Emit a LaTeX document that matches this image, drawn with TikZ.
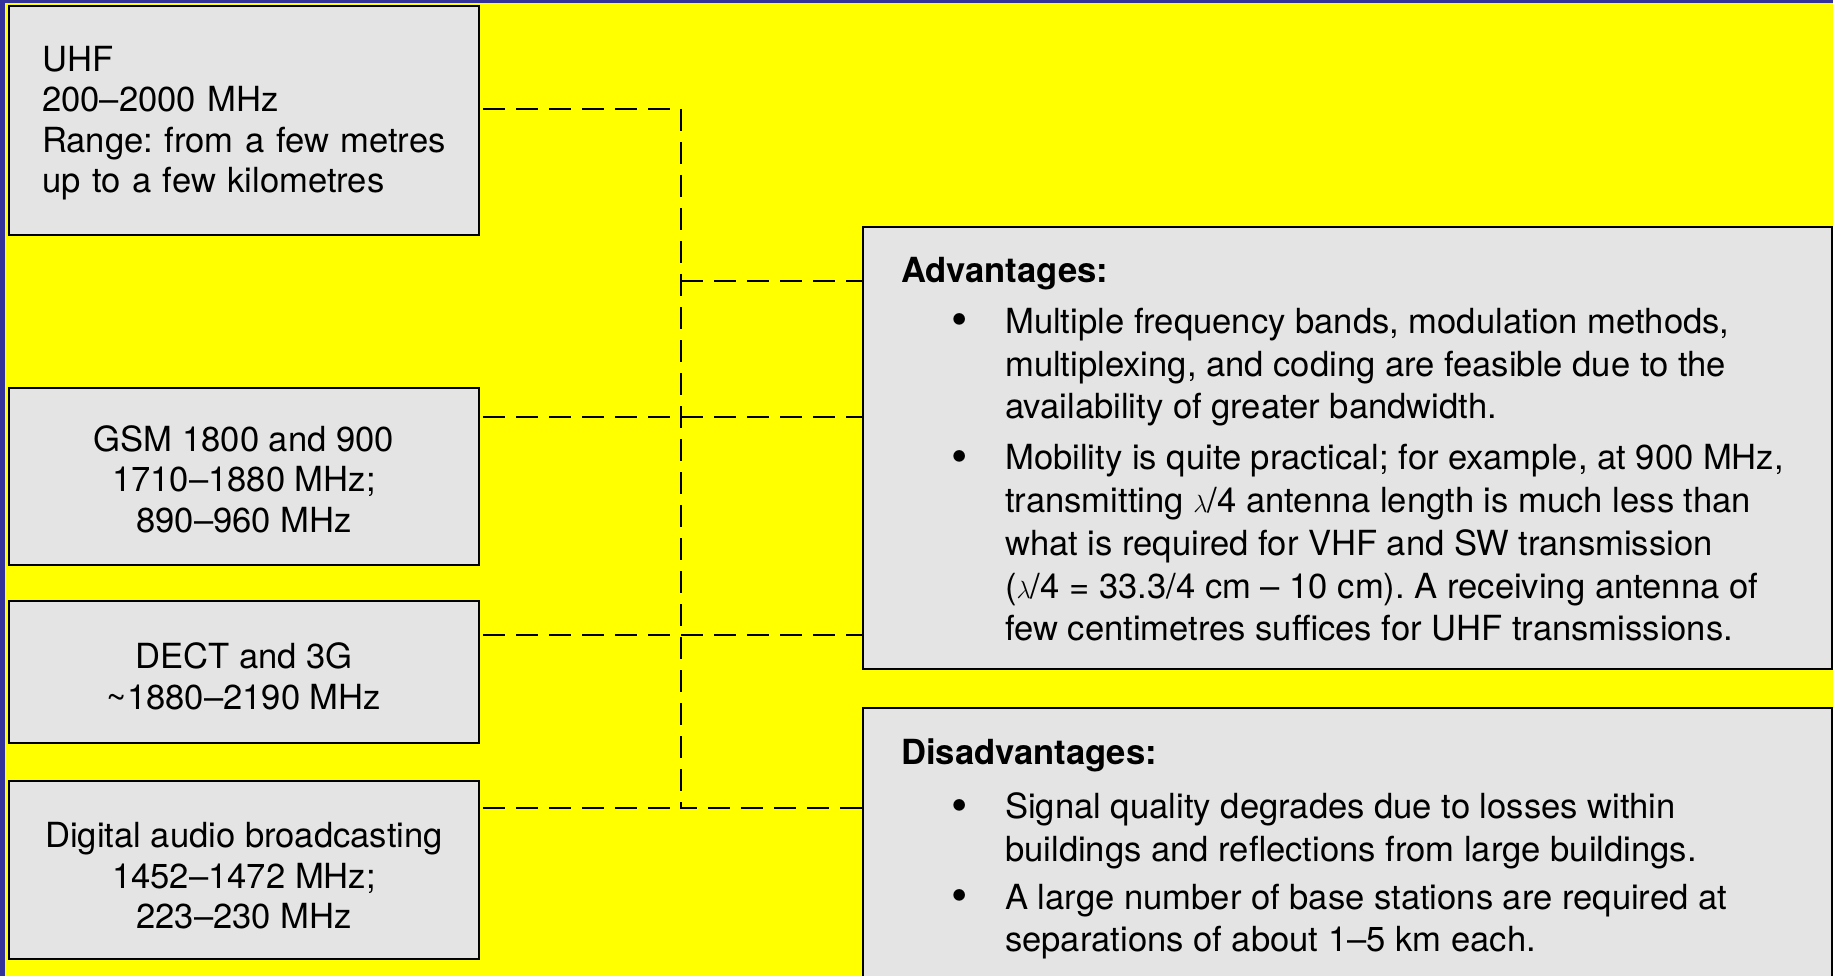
\documentclass[tikz,border=0pt]{standalone}
\usepackage{fontspec}
\setmainfont{TeX Gyre Heros}
\definecolor{frameblue}{RGB}{51,51,153}
\definecolor{bgyellow}{RGB}{255,255,0}
\definecolor{boxgray}{RGB}{228,228,228}
\newcommand\bigbul{\raisebox{-2.5pt}{\scalebox{1.35}{\textbullet}}}
\newcommand\bline[2]{\hbox{\hbox to 104pt{\hskip 50pt #1\hfil}#2}}
\begin{document}
\frenchspacing
\hyphenpenalty=10000
\exhyphenpenalty=10000
\begin{tikzpicture}[x=1pt,y=-1pt,
  box/.style={draw=black, line width=2pt, fill=boxgray, inner sep=0pt, outer sep=0pt},
  lbox/.style={box, minimum width=470pt},
  ltxt/.style={inner sep=0pt, font=\fontsize{34.6}{40.5}\selectfont, align=center},
  conn/.style={line width=2.2pt, dash pattern=on 22pt off 11pt},
  txt/.style={anchor=base west, inner sep=0pt, font=\fontsize{34.6}{42.7}\selectfont}
 ]
\useasboundingbox (0,0) rectangle (1833,976);
\fill[frameblue] (0,0) rectangle (1833,976);
\fill[bgyellow] (5,3) rectangle (1833,976);

% left boxes
\node[lbox, minimum height=229pt] (uhf) at (244,120.5) {};
\node[lbox, minimum height=177pt] (gsm) at (244,476.5) {};
\node[lbox, minimum height=142pt] (dect) at (244,672) {};
\node[lbox, minimum height=178pt] (dab) at (244,870) {};

\node[ltxt, align=left, text width=410pt, anchor=west] (uhft) at ([xshift=33pt,yshift=-2.5pt]uhf.west)
  {UHF\\200--2000 MHz\\Range: from a few metres\\up to a few kilometres};
\node[ltxt] (gsmt) at ([yshift=-2.5pt]gsm.center)
  {GSM 1800 and 900\\1710--1880 MHz;\\890--960 MHz};
\node[ltxt] (dectt) at ([yshift=-4.5pt]dect.center)
  {DECT and 3G\\\textasciitilde1880--2190 MHz};
\node[ltxt] (dabt) at ([yshift=-6pt]dab.center)
  {Digital audio broadcasting\\1452--1472 MHz;\\223--230 MHz};

% right boxes
\node[box, minimum width=969pt, minimum height=442pt] (adv) at (1347.5,448) {};
\node[box, minimum width=969pt, minimum height=300pt] (dis) at (1347.5,858) {};

\node[txt] (advtxt) at (901,283) {\vtop{\baselineskip=42.7pt \parindent=0pt
  \hbox{\bfseries Advantages:}
  \vskip 7.6pt
  \bline{\bigbul}{Multiple frequency bands, modulation methods,}
  \bline{}{multiplexing, and coding are feasible due to the}
  \bline{}{availability of greater bandwidth.}
  \vskip 8.6pt
  \bline{\bigbul}{Mobility is quite practical; for example, at 900 MHz,}
  \bline{}{transmitting $\lambda$/4 antenna length is much less than}
  \bline{}{what is required for VHF and SW transmission}
  \bline{}{($\lambda$/4 = 33.3/4 cm -- 10 cm). A receiving antenna of}
  \bline{}{few centimetres suffices for UHF transmissions.}
}};

\node[txt] (distxt) at (901,764) {\vtop{\baselineskip=42.7pt \parindent=0pt
  \hbox{\bfseries Disadvantages:}
  \vskip 12pt
  \bline{\bigbul}{Signal quality degrades due to losses within}
  \bline{}{buildings and reflections from large buildings.}
  \vskip 5pt
  \bline{\bigbul}{A large number of base stations are required at}
  \bline{}{separations of about 1--5 km each.}
}};

% connectors
\coordinate (j1) at (681,109);
\coordinate (j2) at (681,281);
\coordinate (j3) at (681,417);
\coordinate (j4) at (681,635);
\coordinate (j5) at (681,808);
\draw[conn] ([xshift=4pt]j1 -| uhf.east) -- (j1) -- (j5) -- (j5 -| dis.west);
\draw[conn] ([xshift=4pt]j5 -| dab.east) -- (j5);
\draw[conn] (j2) -- (j2 -| adv.west);
\draw[conn] ([xshift=4pt]j3 -| gsm.east) -- (j3 -| adv.west);
\draw[conn] ([xshift=4pt]j4 -| dect.east) -- (j4 -| adv.west);
\end{tikzpicture}
\end{document}
